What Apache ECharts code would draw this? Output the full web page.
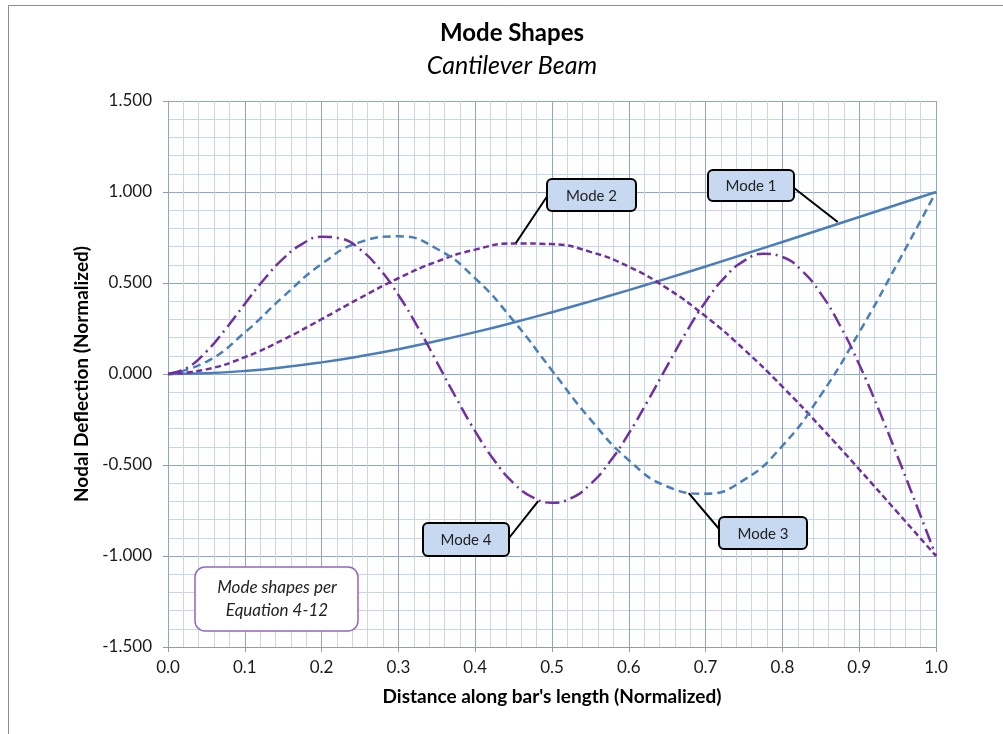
<!DOCTYPE html>
<html><head><meta charset="utf-8">
<script src="https://cdn.jsdelivr.net/npm/echarts@6/dist/echarts.min.js"></script>
<style>html,body{margin:0;padding:0;background:#fff}#c{width:1003px;height:734px}</style>
</head><body><div id="c"></div>
<script>
// ---- data ----
const xCoarse = [0,0.05,0.10,0.15,0.20,0.25,0.30,0.35,0.40,0.45,0.50,0.55,0.60,0.65,0.70,0.75,0.80,0.85,0.90,0.95,1.00];
const xFine = [0,0.025,0.05,0.075,0.10,0.125,0.15,0.175,0.20,0.225,0.25,0.275,0.30,0.325,0.35,0.375,0.40,0.425,0.45,0.475,0.50,
               0.525,0.55,0.575,0.60,0.625,0.65,0.675,0.70,0.725,0.75,0.775,0.80,0.825,0.85,0.875,0.90,0.925,0.95,0.975,1.00];
const mode1 = [0,0.0043,0.0168,0.0368,0.0639,0.0973,0.1365,0.1809,0.2299,0.2830,0.3395,0.3991,0.4611,0.5252,0.5909,0.6578,0.7255,0.7938,0.8624,0.9312,1.0];
const mode2 = [0,0.0254,0.0926,0.1888,0.3011,0.4173,0.5261,0.6177,0.6835,0.7172,0.7137,0.6712,0.5895,0.4702,0.3171,0.1350,-0.0700,-0.2917,-0.5237,-0.7611,-1.0];
const mode3 = [0,0.0670,0.2281,0.4248,0.6045,0.7245,0.7562,0.6881,0.5259,0.2917,0.0197,-0.2493,-0.4738,-0.6181,-0.6574,-0.5815,-0.3949,-0.1158,0.2285,0.6085,1.0];
const mode4 = [0,0.0343,0.1235,0.2470,0.3850,0.5193,0.6338,0.7152,0.7539,0.7443,0.6853,0.5796,0.4341,0.2588,0.0661,-0.1299,-0.3149,-0.4753,-0.5994,-0.6779,-0.7071,
               -0.6817,-0.6053,-0.4838,-0.3265,-0.1455,0.0452,0.2310,0.3974,0.5312,0.6214,0.6602,0.6430,0.5692,0.4416,0.2664,0.0520,-0.1914,-0.4536,-0.7253,-1.0];
const seriesNames = ['Mode 1','Mode 2','Mode 3','Mode 4'];
const calloutAnchorX = [0.872, 0.453, 0.678, 0.482];
const calloutAnchorY = [0.835, 0.720, -0.655, -0.698];
const noteLines = ['Mode shapes per', 'Equation 4-12'];
const titleText = 'Mode Shapes';
const subtitleText = 'Cantilever Beam';
const xTitle = "Distance along bar's length (Normalized)";
const yTitle = 'Nodal Deflection (Normalized)';

// ---- chart ----
const FONT = 'Lato, "Open Sans", sans-serif';
const BLUE = '#4a7ebb', PURPLE = '#7030a0';
const zip = (xs, ys) => xs.map((x, i) => [x, ys[i]]);
const chart = echarts.init(document.getElementById('c'), null, {renderer: 'canvas'});

const axisCommon = {
  type: 'value',
  nameLocation: 'middle',
  nameTextStyle: {fontFamily: FONT, fontWeight: 'bold', fontSize: 19, color: '#000'},
  axisTick: {show: true, length: 5, lineStyle: {color: '#9a9a9a'}},
  splitLine: {show: true, lineStyle: {color: '#8ea6c9', width: 1}},
  minorTick: {show: false, splitNumber: 5},
  minorSplitLine: {show: true, lineStyle: {color: '#c9d6e9', width: 1}}
};

chart.setOption({
  animation: false,
  backgroundColor: '#fff',
  grid: {left: 168, right: 67, top: 101, bottom: 87},
  xAxis: Object.assign({}, axisCommon, {
    min: 0, max: 1, interval: 0.1,
    name: xTitle, nameGap: 40,
    axisLine: {show: true, onZero: false, lineStyle: {color: '#9a9a9a'}},
    axisLabel: {formatter: v => v.toFixed(1), margin: 12, fontFamily: FONT, fontSize: 17, color: '#1a1a1a'}
  }),
  yAxis: Object.assign({}, axisCommon, {
    min: -1.5, max: 1.5, interval: 0.5,
    name: yTitle, nameGap: 66, nameRotate: 90,
    axisLine: {show: true, onZero: false, lineStyle: {color: '#8ea6c9'}},
    axisLabel: {formatter: v => v.toFixed(3), margin: 16, fontFamily: FONT, fontSize: 17, color: '#1a1a1a'}
  }),
  series: [
    {type: 'line', name: seriesNames[0], data: zip(xCoarse, mode1), smooth: true, symbol: 'none',
     lineStyle: {color: BLUE, width: 2.5, type: 'solid'}},
    {type: 'line', name: seriesNames[1], data: zip(xCoarse, mode2), smooth: true, symbol: 'none',
     lineStyle: {color: PURPLE, width: 2.5, type: [6, 3.5]}},
    {type: 'line', name: seriesNames[2], data: zip(xCoarse, mode3), smooth: true, symbol: 'none',
     lineStyle: {color: BLUE, width: 2.5, type: [8, 5]}},
    {type: 'line', name: seriesNames[3], data: zip(xFine, mode4), smooth: true, symbol: 'none',
     lineStyle: {color: PURPLE, width: 2.5, type: [14, 5, 2, 5]}}
  ]
});

// ---- annotations (boxes in pixels, anchors via the chart's scales) ----
const boxes = [
  {x: 708, y: 170, w: 86, h: 31, ax: 794, ay: 188},
  {x: 547, y: 179, w: 89, h: 32, ax: 548, ay: 195},
  {x: 719, y: 517, w: 88, h: 32, ax: 720, ay: 530},
  {x: 423, y: 523, w: 86, h: 33, ax: 509, ay: 538}
];
const g = [];
g.push({type: 'rect', z: 0, silent: true, shape: {x: 8.5, y: 5.5, width: 1100, height: 800},
        style: {fill: 'none', stroke: '#8c8c8c', lineWidth: 1}});
g.push({type: 'text', z: 100, x: 512, y: 33, style: {text: titleText, align: 'center', verticalAlign: 'middle',
        textAlign: 'center', textVerticalAlign: 'middle', fontFamily: FONT, fontWeight: 'bold', fontSize: 24, fill: '#000'}});
g.push({type: 'text', z: 100, x: 512, y: 66, style: {text: subtitleText, align: 'center', verticalAlign: 'middle',
        textAlign: 'center', textVerticalAlign: 'middle', fontFamily: FONT, fontStyle: 'italic', fontSize: 25, fill: '#000'}});
boxes.forEach((b, i) => {
  const p = chart.convertToPixel({gridIndex: 0}, [calloutAnchorX[i], calloutAnchorY[i]]);
  g.push({type: 'line', z: 100, shape: {x1: b.ax, y1: b.ay, x2: p[0], y2: p[1]}, style: {stroke: '#000', lineWidth: 2}});
  g.push({type: 'rect', z: 101, shape: {x: b.x, y: b.y, width: b.w, height: b.h, r: 5},
          style: {fill: '#c6d9f1', stroke: '#000', lineWidth: 2}});
  g.push({type: 'text', z: 102, x: b.x + b.w / 2, y: b.y + b.h / 2 + 1, style: {text: seriesNames[i], align: 'center', verticalAlign: 'middle',
          textAlign: 'center', textVerticalAlign: 'middle', fontFamily: FONT, fontSize: 15, fill: '#222'}});
});
g.push({type: 'rect', z: 101, shape: {x: 195, y: 567, width: 163, height: 64, r: 10},
        style: {fill: '#fff', stroke: '#9466c0', lineWidth: 1.5}});
noteLines.forEach((t, i) => {
  g.push({type: 'text', z: 102, x: 277, y: 588 + i * 23, style: {text: t, align: 'center', verticalAlign: 'middle',
          textAlign: 'center', textVerticalAlign: 'middle', fontFamily: FONT, fontStyle: 'italic', fontSize: 17, fill: '#222'}});
});
chart.setOption({graphic: g});
</script>
</body></html>
